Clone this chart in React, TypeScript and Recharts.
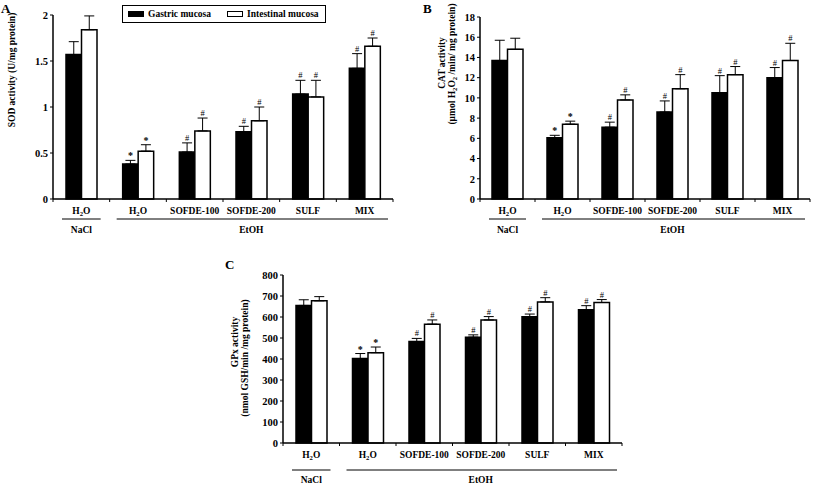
import { BarChart, Bar, XAxis, YAxis, ErrorBar, LabelList, Legend } from "recharts";

const FONT = "'Liberation Serif', 'Times New Roman', serif";

const categoryIds = ["c0", "c1", "c2", "c3", "c4", "c5"];
const categoryLabels = ["H2O", "H2O", "SOFDE-100", "SOFDE-200", "SULF", "MIX"];
const groupLabels = ["NaCl", "EtOH"];
const groupOfCategory = [0, 1, 1, 1, 1, 1];

// A: SOD
const sodGastric = [1.57, 0.38, 0.51, 0.73, 1.14, 1.42];
const sodGastricErr = [0.14, 0.04, 0.1, 0.06, 0.15, 0.16];
const sodIntestinal = [1.84, 0.52, 0.74, 0.85, 1.11, 1.66];
const sodIntestinalErr = [0.15, 0.07, 0.14, 0.15, 0.18, 0.09];
const sodGastricMarks = ["", "*", "#", "#", "#", "#"];
const sodIntestinalMarks = ["", "*", "#", "#", "#", "#"];

// B: CAT
const catGastric = [13.7, 6.05, 7.1, 8.6, 10.5, 12.0];
const catGastricErr = [2.0, 0.25, 0.5, 1.1, 1.7, 1.0];
const catIntestinal = [14.8, 7.4, 9.8, 10.9, 12.3, 13.7];
const catIntestinalErr = [1.1, 0.3, 0.5, 1.4, 0.8, 1.7];
const catGastricMarks = ["", "*", "#", "#", "#", "#"];
const catIntestinalMarks = ["", "*", "#", "#", "#", "#"];

// C: GPx
const gpxGastric = [655, 402, 483, 504, 601, 634];
const gpxGastricErr = [27, 24, 15, 11, 13, 20];
const gpxIntestinal = [677, 430, 566, 586, 672, 669];
const gpxIntestinalErr = [20, 27, 20, 16, 20, 14];
const gpxGastricMarks = ["", "*", "#", "#", "#", "#"];
const gpxIntestinalMarks = ["", "*", "#", "#", "#", "#"];

const sodTicks = [0, 0.5, 1, 1.5, 2];
const catTicks = [0, 2, 4, 6, 8, 10, 12, 14, 16, 18];
const gpxTicks = [0, 100, 200, 300, 400, 500, 600, 700, 800];

function makeRows(g: number[], gE: number[], w: number[], wE: number[]) {
  return categoryIds.map((id, i) => ({ id, i, g: g[i], gE: [0, gE[i]], w: w[i], wE: [0, wE[i]] }));
}

// "H_2O" -> H with subscript 2
function withSubs(text: string, size: number) {
  const parts = text.split(/_(\d)/);
  return parts.map((p, k) =>
    k % 2 === 1 ? (
      <tspan key={k} fontSize={size * 0.7} dy={2}>{p}</tspan>
    ) : (
      <tspan key={k} dy={k > 0 ? -2 : 0}>{p}</tspan>
    ),
  );
}

function CatTick(props: any) {
  const { x, y, index, payload, offs } = props;
  const i = index ?? payload?.index ?? 0;
  const half = payload?.offset || 28;
  const label = categoryLabels[i] === "H2O" ? "H_2O" : categoryLabels[i];
  const gi = groupOfCategory[i];
  const first = groupOfCategory.indexOf(gi);
  const count = groupOfCategory.filter((v) => v === gi).length;
  const isLast = i === categoryIds.length - 1;
  const txt = { fontFamily: FONT, fontWeight: 700, fontSize: 9.5, fill: "#000" };
  return (
    <g>
      <line x1={x - half} x2={x - half} y1={y} y2={y + 3} stroke="#000" strokeWidth={1} />
      {isLast && <line x1={x + half} x2={x + half} y1={y} y2={y + 3} stroke="#000" strokeWidth={1} />}
      <text x={x} y={y + offs[0]} textAnchor="middle" {...txt}>{withSubs(label, 9.5)}</text>
      {i === first && (
        <>
          <line
            x1={x - half + (count === 1 ? 9 : 7)}
            x2={x - half + 2 * half * count - (count === 1 ? 9 : 5)}
            y1={y + offs[1]}
            y2={y + offs[1]}
            stroke="#000"
            strokeWidth={1}
          />
          <text x={x - half + half * count} y={y + offs[2]} textAnchor="middle" {...txt}>{groupLabels[gi]}</text>
        </>
      )}
    </g>
  );
}

function YTitle({ lines, xs, ys }: { lines: string[]; xs: number[]; ys: number[] }) {
  return (
    <g>
      {lines.map((ln, k) => (
        <text
          key={k}
          x={xs[k]}
          y={ys[k]}
          transform={`rotate(-90 ${xs[k]} ${ys[k]})`}
          textAnchor="middle"
          dominantBaseline="central"
          fontFamily={FONT}
          fontWeight={700}
          fontSize={9.5}
          fill="#000"
        >
          {withSubs(ln, 9.5)}
        </text>
      ))}
    </g>
  );
}

function markContent(vals: number[], errs: number[], marks: string[]) {
  return (p: any) => {
    const i = p.index ?? p.value;
    const m = marks[i];
    if (!m) return null;
    const vb = p.viewBox || p;
    const base = vb.y + vb.height;
    const top = base - (vb.height * (vals[i] + errs[i])) / vals[i];
    const star = m === "*";
    return (
      <text
        x={vb.x + vb.width / 2}
        y={top - (star ? 1 : 2)}
        textAnchor="middle"
        fontFamily={FONT}
        fontWeight={star ? 700 : 400}
        fontSize={star ? 10 : 8.5}
        fill="#000"
      >
        {m}
      </text>
    );
  };
}

function LegendBox(props: any) {
  const items = props.payload || [];
  return (
    <div
      style={{
        width: 204,
        height: 18,
        border: "1px solid #000",
        display: "flex",
        alignItems: "center",
        fontFamily: FONT,
        fontWeight: 700,
        fontSize: 9.5,
        color: "#000",
        boxSizing: "border-box",
        paddingLeft: 5,
      }}
    >
      {items.map((it: any, k: number) => (
        <div key={k} style={{ display: "flex", alignItems: "center", marginRight: k === 0 ? 16 : 0 }}>
          <span
            style={{
              display: "inline-block",
              width: 16,
              height: 6,
              background: k === 0 ? "#000" : "#fff",
              border: "1px solid #000",
              boxSizing: "border-box",
              marginRight: 4,
            }}
          />
          {it.value}
        </div>
      ))}
    </div>
  );
}

interface PanelProps {
  letter: string;
  letterPos: [number, number];
  box: { left: number; top: number; width: number; height: number };
  margin: { top: number; right: number; left: number; bottom: number };
  g: number[];
  gE: number[];
  w: number[];
  wE: number[];
  gM: string[];
  wM: string[];
  ticks: number[];
  titles: string[];
  titleX: number[];
  titleY: number[];
  offs: number[];
  legend?: boolean;
}

function Panel(p: PanelProps) {
  const rows = makeRows(p.g, p.gE, p.w, p.wE);
  const axisLine = { stroke: "#000", strokeWidth: 1.5 };
  return (
    <>
      <div
        style={{
          position: "absolute",
          left: p.letterPos[0],
          top: p.letterPos[1],
          fontFamily: FONT,
          fontWeight: 700,
          fontSize: 13,
          lineHeight: "13px",
        }}
      >
        {p.letter}
      </div>
      <div style={{ position: "absolute", ...p.box }}>
        <BarChart width={p.box.width} height={p.box.height} data={rows} margin={p.margin} barGap={0} barSize={15.5}>
          <XAxis
            dataKey="id"
            height={40}
            interval={0}
            tickLine={false}
            tickSize={0}
            tickMargin={0}
            axisLine={axisLine}
            tick={(t: any) => <CatTick {...t} offs={p.offs} />}
          />
          <YAxis
            width={30}
            domain={[0, p.ticks[p.ticks.length - 1]]}
            ticks={p.ticks}
            interval={0}
            tickSize={3}
            tickMargin={2}
            axisLine={axisLine}
            tickLine={{ stroke: "#000", strokeWidth: 1 }}
            tick={{ fontFamily: FONT, fontWeight: 700, fontSize: 10.5, fill: "#000" }}
            label={<YTitle lines={p.titles} xs={p.titleX} ys={p.titleY} />}
          />
          {p.legend && (
            <Legend
              layout="vertical"
              align="center"
              verticalAlign="middle"
              content={<LegendBox />}
              wrapperStyle={{ left: 122, top: 5, width: 206, height: 18 }}
            />
          )}
          <Bar dataKey="g" name="Gastric mucosa" fill="#000" stroke="#000" strokeWidth={1.5} isAnimationActive={false}>
            <ErrorBar dataKey="gE" direction="y" width={5} stroke="#000" strokeWidth={1} />
            <LabelList dataKey="i" content={markContent(p.g, p.gE, p.gM)} />
          </Bar>
          <Bar dataKey="w" name="Intestinal mucosa" fill="#fff" stroke="#000" strokeWidth={1.5} isAnimationActive={false}>
            <ErrorBar dataKey="wE" direction="y" width={5} stroke="#000" strokeWidth={1} />
            <LabelList dataKey="i" content={markContent(p.w, p.wE, p.wM)} />
          </Bar>
        </BarChart>
      </div>
    </>
  );
}

export default function App() {
  return (
    <div style={{ position: "absolute", left: 0, top: 0, width: 813, height: 484, background: "#fff", overflow: "hidden" }}>
      <Panel
        letter="A"
        letterPos={[1, 2]}
        box={{ left: 0, top: 0, width: 400, height: 240 }}
        margin={{ top: 15, right: 7, left: 23, bottom: 1 }}
        g={sodGastric}
        gE={sodGastricErr}
        w={sodIntestinal}
        wE={sodIntestinalErr}
        gM={sodGastricMarks}
        wM={sodIntestinalMarks}
        ticks={sodTicks}
        titles={["SOD activity (U/mg protein)"]}
        titleX={[12]}
        titleY={[70]}
        offs={[15, 20, 33.5]}
        legend
      />
      <Panel
        letter="B"
        letterPos={[423, 2]}
        box={{ left: 400, top: 0, width: 413, height: 240 }}
        margin={{ top: 17, right: 3, left: 50, bottom: 1 }}
        g={catGastric}
        gE={catGastricErr}
        w={catIntestinal}
        wE={catIntestinalErr}
        gM={catGastricMarks}
        wM={catIntestinalMarks}
        ticks={catTicks}
        titles={["CAT activity", "(μmol H_2O_2 /min/ mg protein)"]}
        titleX={[41.5, 52]}
        titleY={[63, 64]}
        offs={[15, 20, 33.5]}
      />
      <Panel
        letter="C"
        letterPos={[225, 258]}
        box={{ left: 200, top: 250, width: 430, height: 234 }}
        margin={{ top: 25, right: 8, left: 53, bottom: 1 }}
        g={gpxGastric}
        gE={gpxGastricErr}
        w={gpxIntestinal}
        wE={gpxIntestinalErr}
        gM={gpxGastricMarks}
        wM={gpxIntestinalMarks}
        ticks={gpxTicks}
        titles={["GPx activity", "(nmol GSH/min /mg protein)"]}
        titleX={[35, 45]}
        titleY={[92, 108]}
        offs={[14.5, 27, 39.5]}
      />
    </div>
  );
}
